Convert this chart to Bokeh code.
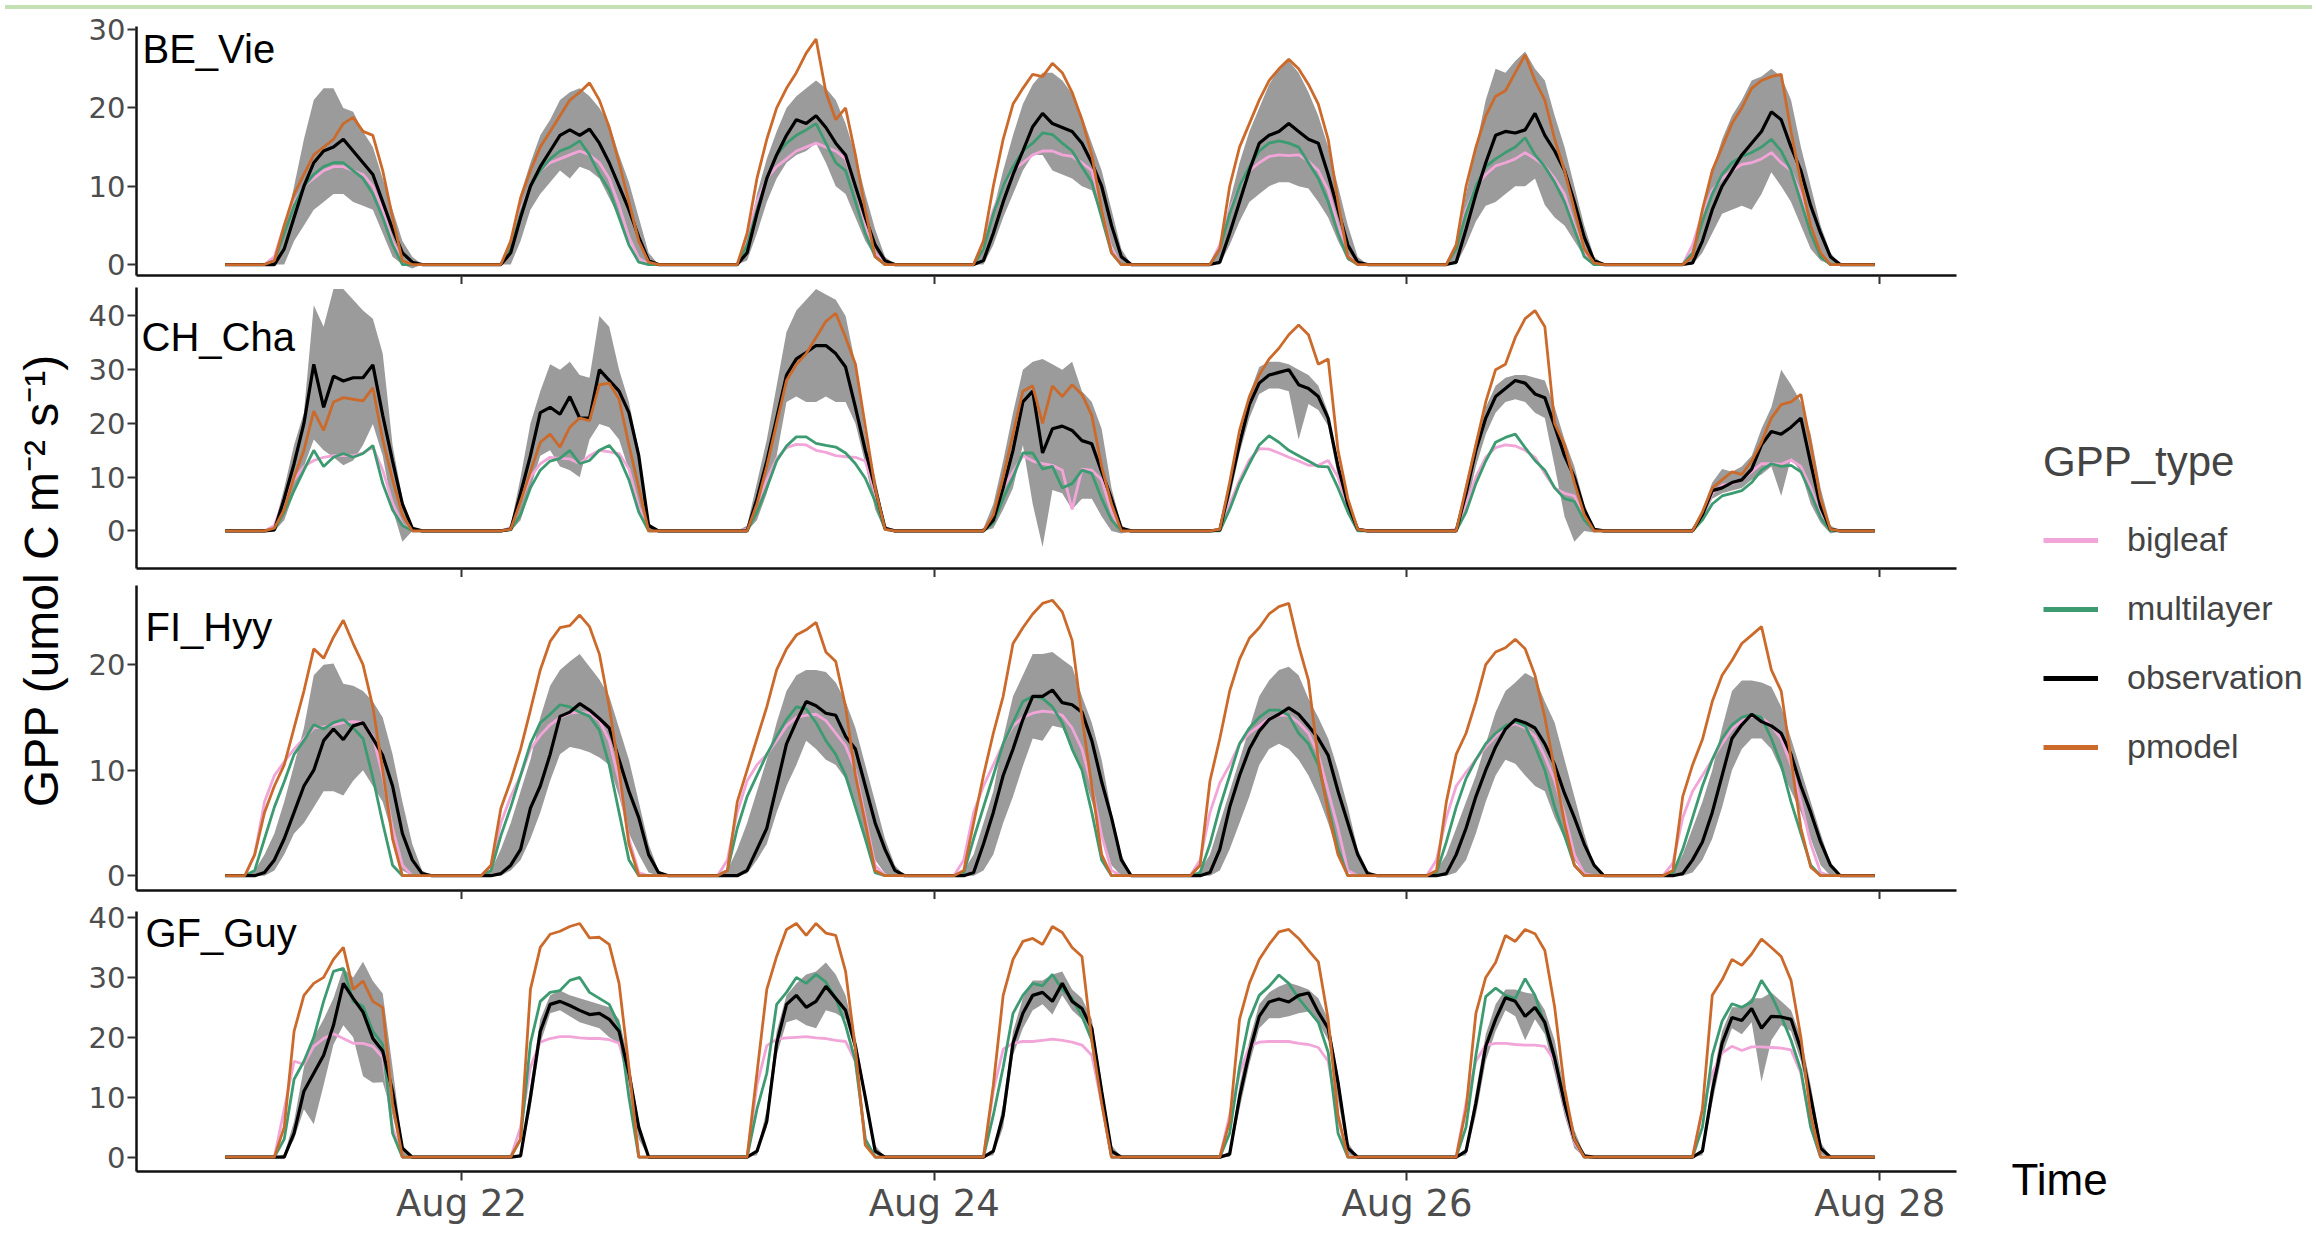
from math import pi

from bokeh.embed import file_html
from bokeh.layouts import column, row
from bokeh.models import ColumnDataSource, Div, FixedTicker, Label, Legend, LegendItem, Range1d
from bokeh.plotting import figure
from bokeh.resources import INLINE


# Hourly GPP (umol C m-2 s-1), one list per day (Aug 21 .. Aug 27), starting at FIRST_HOUR
gpp_types = ["bigleaf", "multilayer", "observation", "pmodel"]
date_ticks = [24, 72, 120, 168]  # hours since Aug 21 00:00
date_labels = ["Aug 22", "Aug 24", "Aug 26", "Aug 28"]
record_start = 0.0
record_end = 167.5

# --- BE_Vie ---
be_first_hour = 4
be_bigleaf = [
    [0, 1, 5, 8, 10, 11, 12, 12.5, 12.5, 12, 11.5, 10, 7, 3, 0.5, 0, 0],
    [0, 3, 7, 10, 12, 13, 13.5, 14, 14.5, 14, 13, 11, 7.5, 3.5, 0.8, 0, 0],
    [0, 3.5, 8, 11, 12.5, 13.5, 14.5, 15, 15.5, 15, 14.5, 13.5, 10, 5, 1.5, 0, 0],
    [0, 3, 7, 10, 12, 13, 14, 14.5, 14.5, 14, 13.8, 13, 12, 7, 2, 0, 0],
    [0, 2.5, 7, 10, 12, 13, 13.8, 14, 13.9, 14, 13.2, 12, 9.5, 5, 1.2, 0, 0],
    [0, 2.5, 7, 10, 11.5, 12.6, 13, 13.5, 14.3, 13.5, 12.6, 11, 9, 5, 1.5, 0, 0],
    [0, 2.5, 6.5, 9.5, 11, 12, 12.8, 13, 13.5, 14.3, 13, 12, 9, 5, 1.5, 0, 0],
]
be_multilayer = [
    [0, 0.5, 4, 7.5, 10, 11.5, 12.5, 13, 13, 12, 11, 9, 6, 2.5, 0, 0, 0],
    [0, 2, 6.5, 10, 12, 13.5, 14.5, 15, 15.8, 14, 11.5, 9.5, 6, 2.5, 0.3, 0, 0],
    [0, 2.5, 7, 11, 14, 15.5, 16.5, 17.2, 18, 15.5, 13, 12, 8, 4, 1, 0, 0],
    [0, 2, 6.5, 10, 12.5, 14.5, 15.5, 16.8, 16.6, 15.5, 14.5, 12.5, 10.5, 6, 1.5, 0, 0],
    [0, 2, 6.5, 10, 12.5, 14.5, 15.5, 15.8, 15.5, 15, 13, 11, 8, 4, 0.8, 0, 0],
    [0, 2, 6.5, 10, 12.5, 13.5, 14.3, 15, 16.2, 14, 12.5, 10.5, 8, 4.5, 1, 0, 0],
    [0, 1.5, 5.5, 9, 11.5, 13, 13.8, 14.3, 15, 16, 14.5, 12, 8, 4, 1, 0, 0],
]
be_observation = [
    [0, 0, 2, 6, 10, 13, 14.5, 15, 16, 14.5, 13, 11.5, 8, 4.5, 1.5, 0.3, 0],
    [0, 1.5, 6, 10, 12.5, 14.5, 16.5, 17.2, 16.5, 17.3, 15.5, 13, 10, 7, 3.5, 0.5, 0],
    [0, 1.5, 6.5, 11, 14, 16.5, 18.5, 18, 19, 17.5, 15.5, 14, 10, 6, 2.5, 0.5, 0],
    [0, 0.5, 4, 8, 11.5, 14.5, 17.6, 19.3, 18, 17.5, 17, 15.5, 13, 10, 5, 1, 0],
    [0, 0.3, 4, 8, 12, 15.5, 16.5, 17, 18, 17, 16, 15.5, 11.5, 7, 2.5, 0.3, 0],
    [0, 0.3, 4.5, 9, 13, 16.5, 17, 16.8, 17.2, 19.3, 16.5, 14.5, 12, 8, 3.5, 0.5, 0],
    [0, 0.2, 3, 7, 10, 12, 14, 15.5, 17, 19.5, 18.5, 15, 12, 7.5, 4, 1, 0],
]
be_pmodel = [
    [0, 0.5, 5, 9, 11.5, 14, 15, 16, 18, 18.8, 17, 16.5, 12, 6, 0.5, 0, 0],
    [0, 3, 8.5, 12, 15, 17, 19, 21, 22, 23.2, 21, 17.5, 13, 8, 3, 0.3, 0],
    [0, 4, 11, 16, 20, 22.5, 24.5, 27, 28.8, 22, 18.5, 20, 14, 7, 1, 0, 0],
    [0, 3, 10, 16, 20.5, 22.5, 24.3, 24, 25.7, 24.5, 22, 18.5, 14, 7, 1.5, 0, 0],
    [0, 2, 10, 15, 18, 21, 23.5, 25, 26.2, 25, 23, 20.5, 16, 8, 1, 0, 0],
    [0, 2.5, 10, 15, 19, 21.5, 22.2, 24.5, 26.8, 23.5, 21, 16, 12, 7, 2, 0.2, 0],
    [0, 1, 7, 12, 15, 18, 20, 22.5, 23.5, 24, 24.3, 17, 10.5, 5, 1.5, 0, 0],
]
be_obs_low = [
    [0, 0, 0, 3, 5, 7, 8, 9, 9, 8, 7.5, 7, 4, 1, 0, -0.5, 0],
    [0, 0, 3, 7, 9, 10.5, 12, 11, 12.5, 12, 11, 8.5, 6, 3, 1, 0, 0],
    [0, 0.5, 4, 8, 11, 13, 14, 14.5, 15.5, 13, 10, 9, 6, 3, 1, 0, 0],
    [0, 0, 2.5, 6, 9, 12, 14, 14, 12, 11.5, 11, 10, 9.5, 6, 2.5, 0, 0],
    [0, 0, 2.5, 5.5, 8, 9, 10, 10.5, 10.5, 10, 9.7, 8, 6, 3, 0.5, 0, 0],
    [0, 0, 2.5, 5.5, 7.5, 8, 9, 10, 10, 11, 7.6, 6, 5, 3, 1, 0, 0],
    [0, 0, 1.5, 4, 6.5, 7, 7.5, 7, 9, 11.8, 10, 8, 5, 2, 0.5, 0, 0],
]
be_obs_high = [
    [0, 0.5, 4, 10, 16, 21, 22.5, 22.5, 20, 19.5, 17, 15, 11, 7, 3, 1, 0],
    [0, 3, 9, 13, 16.5, 18.5, 21, 22, 22.5, 21.5, 20, 18, 14, 10.5, 6, 1.5, 0],
    [0, 3, 9, 13.5, 17, 20, 21.5, 22.5, 23.5, 22.5, 21, 18, 14, 9, 4.5, 1, 0],
    [0, 2, 7, 12, 16.5, 20.5, 23, 24.5, 24.5, 23.5, 21.8, 19, 15.5, 12, 7, 2, 0],
    [0, 2, 8, 13, 17, 20, 23, 25, 26, 24.5, 22, 19, 15, 10, 5, 1, 0],
    [0, 2, 9, 15, 21, 25, 24.5, 26, 27.2, 25, 23.5, 19, 15, 10, 5, 1, 0],
    [0, 1.5, 7, 12, 16, 19, 21, 23.5, 24, 25, 24, 21, 15, 10, 5, 1.5, 0],
]

# --- CH_Cha ---
ch_first_hour = 4
ch_bigleaf = [
    [0, 1, 6, 9.5, 12, 13.1, 13.7, 14, 14, 14, 14.5, 15.6, 11.3, 5.2, 1.2, 0, 0],
    [0, 0.5, 5.5, 10, 12.5, 13.7, 13.5, 13.4, 12.5, 14, 15, 14.7, 14.4, 11.5, 4.5, 0, 0],
    [0, 0.3, 5, 9.5, 13.5, 15.5, 16.1, 16, 15, 14.6, 14, 13.8, 13.7, 13, 7, 0.5, 0],
    [0, 0, 3, 8, 11, 14, 13, 12.5, 12.2, 11.3, 4, 11.5, 11.3, 9.5, 3.5, 0, 0],
    [0, 0.3, 5, 9.4, 13.2, 15.3, 15.2, 14.5, 13.7, 13, 12.2, 12.2, 13.1, 10, 4, 0.3, 0],
    [0, 0.3, 5, 10, 13.7, 15.5, 16, 15.8, 15, 13.7, 10.7, 8, 7, 6.5, 2.5, 0, 0],
    [0, 0, 2.8, 7, 8.5, 8.8, 9.5, 11, 12.5, 12.5, 12.4, 13.2, 12, 8, 3, 0.2, 0],
]
ch_multilayer = [
    [0, 0.2, 3.5, 7.5, 11.3, 15, 12, 13.7, 14.4, 13.7, 14.4, 15.9, 8.8, 3.9, 1, 0, 0],
    [0, 0.2, 3, 8, 11.3, 13, 13.5, 15, 12.5, 13.1, 15, 15.9, 13.7, 9.5, 3.5, 0, 0],
    [0, 0, 3.5, 8, 13, 15.8, 17.5, 17.5, 16.3, 15.9, 15.6, 14.5, 12.5, 9.8, 5.5, 0.3, 0],
    [0, 0, 1.5, 6, 10, 14.5, 14.5, 11.5, 12, 8, 8.8, 11.3, 10.7, 6, 2, 0, 0],
    [0, 0, 4, 8.8, 12.5, 16, 17.7, 16.5, 15, 14, 13, 12, 11.9, 8, 3.5, 0, 0],
    [0, 0, 3.5, 8.8, 13, 16.5, 17.4, 18, 15.5, 13.1, 11.3, 8, 6, 5.5, 2, 0, 0],
    [0, 0, 2, 5, 6.5, 7, 7.5, 9, 11.3, 12.5, 12, 12.2, 11, 7, 2.5, 0, 0],
]
ch_observation = [
    [0, 0.2, 6, 12.5, 20, 31, 23, 28.8, 27.9, 28.5, 28.5, 30.9, 21.5, 13, 5, 0.5, 0],
    [0, 0.3, 7, 14, 22, 23, 21.7, 25, 21, 21, 30, 28, 26, 22, 14, 1, 0],
    [0, 0, 6, 13, 21, 29, 32, 33.2, 34.5, 34.5, 33, 30.5, 23, 15, 8, 0.5, 0],
    [0, 0, 2, 8, 15, 24, 26, 14.5, 19, 19.5, 18.7, 16.8, 16.2, 11, 6, 0.5, 0],
    [0, 0.2, 8, 16.2, 23.5, 27.5, 29, 29.5, 30, 27.2, 26.5, 25, 21, 12, 5, 0.3, 0],
    [0, 0, 7, 15, 21, 25, 26.5, 28, 27.5, 25.5, 24.8, 19.5, 14, 10, 4, 0.3, 0],
    [0, 0, 3, 7.5, 8, 9, 9.5, 11.5, 16, 18.5, 18, 19.3, 21, 12.5, 4.5, 0.3, 0],
]
ch_pmodel = [
    [0, 0.5, 4, 10, 15, 22.3, 18.7, 24, 24.8, 24.5, 24.2, 26.6, 17, 9.5, 3, 0, 0],
    [0, 0.3, 5.5, 11, 16.5, 18, 15.6, 19.3, 21, 20.5, 27.2, 27.5, 24.5, 16, 8, 0, 0],
    [0, 0, 5, 12, 20, 28, 31, 33, 36, 39, 40.5, 36, 31, 19.5, 8, 0.3, 0],
    [0, 0, 3, 10, 18, 26, 27, 20, 27, 25, 27.2, 25.4, 21.5, 12, 5, 0, 0],
    [0, 0.3, 9, 18.7, 25, 29, 32, 34, 36.5, 38.3, 36.5, 31, 32, 15, 6, 0.3, 0],
    [0, 0, 8, 16, 24, 30, 31, 36, 39.5, 41, 38, 20, 16, 9, 3, 0, 0],
    [0, 0, 3.5, 8, 9.5, 11, 10.5, 13, 16.5, 21, 23.5, 24, 25.4, 16, 6, 0.3, 0],
]
ch_obs_low = [
    [0, 0, 2, 7, 12, 17, 15, 13.7, 12.2, 13.1, 16, 19.9, 14, 4, -2, 0, 0],
    [0, 0, 2, 8, 14, 15, 12, 11.3, 10, 17, 19.9, 19.3, 17, 11.3, 4, 0, 0],
    [0, 0, 2, 7, 14, 24, 25, 24, 24, 25, 24, 24, 20, 12.5, 4, 0, 0],
    [0, 0, 0.5, 4, 8, 16, 5, -3, 7.6, 7, 4, 6, 6, 2.7, 0, -0.5, 0],
    [0, 0, 6, 14.5, 21, 25.5, 26.5, 26.5, 26, 17, 23.6, 22.5, 19.5, 10, 3, 0, 0],
    [0, 0, 4, 12, 18, 22, 24, 24.5, 24, 22, 21, 12, 2.7, -2, 0, -0.3, 0],
    [0, 0, 2, 6, 7, 7.5, 8, 9.5, 10.5, 12, 6.5, 13.5, 11, 5, 1.5, -0.5, 0],
]
ch_obs_high = [
    [0, 1, 8, 16, 22, 42, 38, 45, 45, 43, 41, 39.5, 33, 16, 6, 0.5, 0],
    [0, 1, 10, 20, 26, 31, 30, 31.5, 29, 28.5, 40, 38, 30, 24, 15, 1.5, 0],
    [0, 1, 9, 17, 27, 37, 41, 43, 45, 44, 43, 40, 31, 18, 10, 1, 0],
    [0, 0.5, 5, 13, 22, 30, 31.5, 32, 31, 30, 31.5, 26, 24, 19, 8, 1, 0],
    [0, 0.5, 10, 17.5, 25.5, 30.5, 31.5, 31.5, 31, 30, 29, 27, 22, 13, 6, 0.5, 0],
    [0, 0.5, 9, 17, 23, 27, 28.5, 29, 29, 28.5, 28, 23, 17, 12, 5, 0.5, 0],
    [0, 0.5, 4, 9, 11.5, 11, 12, 14, 19, 23, 30, 27.2, 24, 18, 8, 1, 0],
]

# --- FI_Hyy ---
fi_first_hour = 2
fi_bigleaf = [
    [0, 2, 7, 9.5, 10.8, 12, 13, 14, 14.1, 14.3, 14.5, 14.6, 14.5, 13.2, 9.5, 4.5, 1, 0, 0, 0],
    [0, 1, 5, 7.5, 9.5, 12, 13.3, 14.3, 15, 15.4, 15.5, 15.4, 14.7, 12.8, 9, 3.5, 0.3, 0, 0, 0],
    [0, 1.5, 6, 9, 10.5, 11.5, 12.8, 14.2, 15, 15.2, 15.3, 14.7, 13.5, 12.3, 10, 5.5, 1, 0, 0, 0],
    [0, 1.5, 6, 8.5, 10.5, 12.5, 14.2, 15, 15.4, 15.6, 15.5, 15.2, 14, 12, 8.5, 3.8, 0.5, 0, 0, 0],
    [0, 1.5, 6, 8.8, 10.5, 12.5, 13.5, 14.2, 14.9, 15.2, 15.2, 14.5, 13.5, 11.5, 8, 4.5, 0.5, 0, 0, 0],
    [0, 1.5, 5.5, 8.5, 9.8, 11, 12.2, 13.2, 14.1, 14.4, 14, 13.2, 11.3, 9, 5.8, 2, 0.2, 0, 0, 0],
    [0, 1.2, 5.5, 8, 9.5, 11, 12.5, 13.9, 14.7, 15.1, 15, 14.2, 13, 10.5, 7, 3, 0.3, 0, 0, 0],
]
fi_multilayer = [
    [0, 0.5, 3.5, 6.5, 8.9, 11.5, 12.8, 14.3, 13.9, 14.5, 14.8, 14, 13, 9.3, 5, 1, 0, 0, 0, 0],
    [0, 0.5, 3.8, 6.5, 9.5, 12.5, 14.5, 15.3, 16.2, 16, 15.5, 15.1, 13.8, 10.5, 6, 1.5, 0, 0, 0, 0],
    [0, 0.5, 4.5, 7.5, 9.5, 11.5, 13.2, 14.8, 16, 15.8, 14.5, 12.8, 11.5, 9.5, 6.5, 3.5, 0.3, 0, 0, 0],
    [0, 0.3, 3.5, 6.5, 9.5, 12.5, 14.5, 16.5, 17, 16.8, 16, 14.5, 12, 10, 6, 1.5, 0, 0, 0, 0],
    [0, 0.3, 3, 6.5, 9.5, 12.5, 14, 15, 15.7, 15.7, 15.2, 13.5, 12.5, 10.5, 6.5, 2.5, 0, 0, 0, 0],
    [0, 0.3, 3.2, 6.5, 9.2, 11, 12.5, 13.5, 14.2, 14.6, 14.2, 12.3, 10, 6.5, 3.8, 1, 0, 0, 0, 0],
    [0, 0.2, 2.5, 5.5, 8.5, 11, 13, 14.3, 15, 15.3, 15, 13, 10.5, 7, 4, 1, 0, 0, 0, 0],
]
fi_observation = [
    [0, 0, 0.3, 1.5, 3.5, 6, 8.5, 10, 12.8, 13.9, 12.9, 14.2, 14.5, 13, 11.4, 8.5, 4, 1.5, 0.2, 0],
    [0, 0, 0.2, 1, 2.5, 6.4, 8.5, 11.5, 15.1, 15.5, 16.3, 15.7, 14.9, 14, 11, 8, 5.5, 2, 0.3, 0],
    [0, 0, 0, 0.5, 2.5, 4.5, 8.5, 12.5, 14.6, 16.5, 16.1, 15.4, 15.2, 13.2, 12, 8.5, 5, 2.5, 0.5, 0],
    [0, 0, 0.3, 3, 6, 9.5, 12, 14.8, 17, 17, 17.6, 16.4, 16.2, 15.5, 12.8, 8.9, 5.5, 1.5, 0, 0],
    [0, 0, 0.3, 2.5, 6.5, 9.5, 12, 13.7, 14.8, 15.3, 15.9, 15.3, 14.2, 13, 11.4, 8, 5, 2, 0.2, 0],
    [0, 0, 0.2, 2, 4.5, 7.5, 10, 12.2, 13.9, 14.8, 14.5, 14, 12.5, 10.5, 7.8, 5.5, 3, 1, 0, 0],
    [0, 0, 0.2, 1.5, 3.2, 6, 9.5, 13, 14.3, 15.3, 14.6, 14.2, 13.5, 11.5, 8.5, 6, 3.2, 1, 0, 0],
]
fi_pmodel = [
    [0, 2, 6, 8.5, 10.5, 14, 17.5, 21.5, 20.6, 22.6, 24.2, 22, 20, 16, 10, 3.5, 0, 0, 0, 0],
    [0, 1, 6.4, 9, 12, 15.7, 19.5, 22.2, 23.5, 23.7, 24.7, 23.6, 21, 16, 10, 3, 0, 0, 0, 0],
    [0, 0.5, 7, 10, 13, 16, 19.5, 21.5, 22.8, 23.3, 24, 21.2, 20.3, 16, 9.5, 5, 0.5, 0, 0, 0],
    [0, 0.5, 5, 9.5, 13.5, 17, 22, 23.5, 24.8, 25.8, 26.1, 25, 22.3, 15, 8.5, 2, 0, 0, 0, 0],
    [0, 1, 9, 13, 17.5, 20.5, 22.5, 23.5, 24.8, 25.5, 25.8, 21.8, 18.5, 11, 6, 2, 0, 0, 0, 0],
    [0, 0.5, 7, 11.5, 13.5, 16.5, 20, 21.2, 21.6, 22.4, 21.5, 19, 15, 10, 5, 1, 0, 0, 0, 0],
    [0, 0.5, 7.5, 10.5, 12.9, 16.5, 19, 20.4, 22, 22.8, 23.6, 19.5, 17.5, 11, 4.5, 0.8, 0, 0, 0, 0],
]
fi_obs_low = [
    [0, 0, 0, 0.5, 2, 4, 5, 6.5, 8, 8, 7.6, 9, 10, 8.5, 7, 3.8, 0.5, 0, 0, 0],
    [0, 0, 0, 0.5, 1.5, 3.5, 6, 9, 11.5, 12.2, 12, 11.7, 11.2, 10.5, 7.5, 4, 2, 0.3, 0, 0],
    [0, 0, 0, 0.2, 1.5, 3, 6, 8.5, 10.5, 12.8, 12, 11, 10.5, 9.2, 6.5, 3.5, 1.5, 0.2, 0, 0],
    [0, 0, 0, 0.5, 2, 5, 7.5, 10.4, 13, 12.8, 14.2, 14, 12, 10, 7, 4, 1, 0, 0, 0],
    [0, 0, 0, 0.5, 2.5, 5, 7.5, 10.5, 12, 12.5, 12, 11, 9.5, 7.5, 5, 2, 0.5, 0, 0, 0],
    [0, 0, 0, 0.3, 1.5, 4, 7, 9.5, 11, 10.6, 9.5, 8.5, 8, 5.5, 3.5, 1.5, 0.2, 0, 0, 0],
    [0, 0, 0, 0.3, 1.5, 3.5, 6.5, 10, 12, 13, 13, 12, 10, 8, 6, 3.5, 1, 0, 0, 0],
]
fi_obs_high = [
    [0, 0.5, 2, 4, 7, 10.5, 14, 19, 20, 20.1, 18.2, 18, 17.5, 16.5, 15, 11.5, 7, 3, 0.5, 0],
    [0, 0.5, 2.5, 5, 8, 11, 15, 18, 19.5, 20.3, 21, 19.8, 18.6, 17, 14, 11, 7, 3, 0.5, 0],
    [0, 0.5, 2.5, 5, 8, 11, 14.5, 17.5, 19, 19.5, 19.5, 19.3, 18.3, 16.5, 14, 10.5, 7, 3.5, 1, 0],
    [0, 0.5, 2, 5, 8, 13, 17, 19, 21, 21, 21.2, 20.5, 19.8, 17, 14.5, 11, 6, 2, 0, 0],
    [0, 0.5, 2, 5, 8, 11, 14, 17, 18.5, 19.5, 19.8, 19, 16.8, 15, 13, 10, 6.5, 2.5, 0.5, 0],
    [0, 0.5, 2, 4.5, 7, 9.5, 12.5, 15.5, 17.5, 18.3, 19.2, 18.7, 16.5, 14.5, 11, 7.5, 4, 1, 0, 0],
    [0, 0.3, 2, 4.5, 7, 10, 14, 17.5, 18.5, 18.5, 18.3, 17.9, 16, 13, 10, 7, 4, 1.2, 0, 0],
]

# --- GF_Guy ---
gf_first_hour = 4
gf_bigleaf = [
    [0, 0, 8, 16, 15.5, 18.5, 19.8, 20.6, 19.8, 19, 19, 18.5, 16.6, 5, 0, 0, 0],
    [0, 0, 5, 15, 19.2, 19.8, 20.1, 20.1, 19.9, 19.8, 19.8, 19.6, 19, 13, 0, 0, 0],
    [0, 0, 12, 18.6, 19.7, 19.9, 20, 20.1, 19.9, 19.8, 19.5, 19.3, 16, 3, 0, 0, 0],
    [0, 0, 11, 18, 19, 19.3, 19.3, 19.5, 19.7, 19.5, 19.2, 18.7, 17, 9, 0, 0, 0],
    [0, 0, 7, 14, 18.5, 19.2, 19.3, 19.3, 19.3, 19, 18.8, 18.3, 16, 6.5, 0, 0, 0],
    [0, 0, 9, 16, 18.7, 19, 19, 18.8, 18.7, 18.7, 18.5, 16, 8.5, 2.5, 0, 0, 0],
    [0, 0, 8, 14, 17.4, 18.5, 17.8, 18.4, 18.4, 18.3, 18.2, 17.9, 14, 5, 0, 0, 0],
]
gf_multilayer = [
    [0, 0, 3, 13, 16, 20, 26, 31, 31.5, 26, 25.2, 21, 18.8, 4, 0, 0, 0],
    [0, 0, 3, 19, 26, 27.5, 27.8, 29.5, 30, 27.5, 26.5, 25.5, 22, 10, 0, 0, 0],
    [0, 0, 8, 14, 25.5, 27.5, 30, 29, 30.5, 29.2, 26.5, 22, 16, 3, 0, 0, 0],
    [0, 0, 7, 15, 24, 27, 29, 28.6, 30.5, 28, 26.5, 23.5, 19.5, 9.5, 0, 0, 0],
    [0, 0, 4, 15, 23, 27, 28.5, 30.4, 29, 26.5, 24.5, 22.5, 17.5, 4, 0, 0, 0],
    [0, 0, 5, 17, 26.8, 28.2, 27, 26.5, 29.8, 27, 22, 16.5, 9.4, 3, 0, 0, 0],
    [0, 0, 5, 17, 22.7, 25.6, 25, 25.9, 29.5, 27, 23.5, 19.5, 14.5, 5, 0, 0, 0],
]
gf_observation = [
    [0, 0, 0, 4, 11, 14, 17, 22, 29, 26.5, 24.2, 19.8, 17.7, 11, 1.5, 0, 0],
    [0, 0, 0.2, 10, 21, 25.5, 26, 25.3, 24.5, 23.8, 24, 23, 21, 14, 5, 0, 0],
    [0, 0, 1, 6, 19, 25.5, 27, 25, 26, 28.5, 26.5, 24.5, 18.5, 10, 1, 0, 0],
    [0, 0, 1, 7, 19, 24, 27, 27.5, 26, 29, 26, 24.8, 21.5, 11, 1, 0, 0],
    [0, 0, 0.5, 10, 17.5, 23.5, 25.9, 26.4, 25.9, 27, 27.4, 24.2, 21.5, 12.5, 1.5, 0, 0],
    [0, 0, 1, 9, 18.5, 23, 26.6, 26, 23.5, 25, 22.5, 16.5, 9, 3, 0.2, 0, 0],
    [0, 0, 1, 11, 19, 23.3, 22.8, 24.8, 21.5, 23.5, 23.4, 23, 18, 10, 1.5, 0, 0],
]
gf_pmodel = [
    [0, 0, 5, 21, 27, 29, 30, 33, 35, 28, 29.4, 26, 25, 9, 0, 0, 0],
    [0, 0, 3, 28, 35, 37.2, 37.7, 38.5, 39, 36.6, 36.7, 35.5, 29, 15, 0, 0, 0],
    [0, 0, 14, 28, 33.5, 38, 39, 37, 39, 37.4, 37, 31, 18, 2, 0, 0, 0],
    [0, 0, 12, 27, 33, 36, 36.5, 35.5, 38.5, 37.5, 35, 33.5, 19.5, 9, 0, 0, 0],
    [0, 0, 6, 23, 29, 33, 35.5, 37.6, 38, 36.5, 34.5, 32.6, 23, 7, 0, 0, 0],
    [0, 0, 8, 24, 30, 32.5, 37, 36, 38, 37.3, 34.5, 25, 11.5, 3, 0, 0, 0],
    [0, 0, 8, 27, 29.6, 33, 32, 33.9, 36.4, 35, 33.5, 29.5, 20, 7, 0, 0, 0],
]
gf_obs_low = [
    [0, 0, 0, 3, 8, 5.5, 12, 18.8, 22, 20, 13.5, 12.4, 12.5, 7, 0, 0, 0],
    [0, 0, 0, 8, 19, 24, 24.5, 23.5, 22.5, 22, 21.5, 20, 19, 12, 3, 0, 0],
    [0, 0, 0.3, 5, 17, 22.5, 23, 22, 21.5, 24.5, 24, 23, 17.5, 9, 0.5, 0, 0],
    [0, 0, 0.3, 5, 17, 21.5, 24.5, 25.5, 23.8, 27, 24.5, 23, 20, 9.5, 0.5, 0, 0],
    [0, 0, 0, 8, 15.5, 21.5, 23.2, 23.2, 23.5, 24, 24.3, 22.5, 19.5, 9.5, 0.5, 0, 0],
    [0, 0, 0.3, 7, 16, 21, 24.5, 23.5, 19.5, 23, 20.5, 14, 7, 1.5, 0, 0, 0],
    [0, 0, 0.3, 9, 17, 21.5, 20.5, 22.5, 12.6, 19.5, 22, 21, 16, 8, 0.5, 0, 0],
]
gf_obs_high = [
    [0, 0, 0.5, 6, 15, 20, 23, 26.5, 31.5, 30, 32.6, 29.4, 27.3, 15, 2, 0, 0],
    [0, 0, 0.5, 12, 23, 27, 27.8, 27, 26.5, 26, 25.5, 25, 23, 16, 6, 0, 0],
    [0, 0, 1, 8, 21, 27, 29, 30.5, 31, 32.5, 30.5, 27, 20, 11, 2, 0, 0],
    [0, 0, 1, 9, 21, 26.5, 29.5, 29.5, 30.5, 31, 28, 26.5, 23, 12.5, 2, 0, 0],
    [0, 0, 1, 12, 19.5, 25.5, 27.5, 28.5, 29.1, 28.6, 28, 26.5, 23, 14, 2.5, 0, 0],
    [0, 0, 1.5, 11, 20.5, 25.5, 28, 28, 27.5, 27.2, 24.5, 19.5, 11, 4.5, 0.5, 0, 0],
    [0, 0, 1.5, 13, 21, 25, 25, 26.5, 26.5, 27.5, 26, 24.5, 20, 12, 2.5, 0, 0],
]

site_data = {
    "BE_Vie": (be_first_hour, be_bigleaf, be_multilayer, be_observation, be_pmodel, be_obs_low, be_obs_high),
    "CH_Cha": (ch_first_hour, ch_bigleaf, ch_multilayer, ch_observation, ch_pmodel, ch_obs_low, ch_obs_high),
    "FI_Hyy": (fi_first_hour, fi_bigleaf, fi_multilayer, fi_observation, fi_pmodel, fi_obs_low, fi_obs_high),
    "GF_Guy": (gf_first_hour, gf_bigleaf, gf_multilayer, gf_observation, gf_pmodel, gf_obs_low, gf_obs_high),
}

# Styling
colors = {"bigleaf": "#f2a5d8", "multilayer": "#3d9b72", "observation": "#000000", "pmodel": "#cc6a2b"}
band_color = "#9b9b9b"
tick_grey = "#4d4d4d"

# panel layout: (height, border top, border bottom, y start, y end, y ticks, label x, label y)
panel_layout = {
    "BE_Vie": (270, 12, 8, -1.4, 30.4, [0, 10, 20, 30], 6, 227),
    "CH_Cha": (293, 3, 9, -7.0, 45.3, [0, 10, 20, 30, 40], 5, 232),
    "FI_Hyy": (322, 8, 8, -1.4, 27.5, [0, 10, 20], 9, 264),
    "GF_Guy": (328, 12, 50, -2.4, 41.0, [0, 10, 20, 30, 40], 9, 239),
}


def stitch(days, first_hour):
    t, v = [record_start], [0.0]
    for d, vals in enumerate(days):
        for i, val in enumerate(vals):
            t.append(24 * d + first_hour + i)
            v.append(val)
    t.append(record_end)
    v.append(0.0)
    return t, v


x_range = Range1d(-9.0, 175.8)
panels = []
for n, site in enumerate(site_data):
    first_hour, bigleaf, multilayer, observation, pmodel, obs_low, obs_high = site_data[site]
    height, b_top, b_bottom, y0, y1, yticks, lab_x, lab_y = panel_layout[site]
    cols = {}
    for name, days in zip(
        ["bigleaf", "multilayer", "observation", "pmodel", "low", "high"],
        [bigleaf, multilayer, observation, pmodel, obs_low, obs_high],
    ):
        t, v = stitch(days, first_hour)
        cols["t"] = t
        cols[name] = v
    source = ColumnDataSource(data=cols)

    p = figure(
        width=1890,
        height=height,
        x_range=x_range,
        y_range=Range1d(y0, y1),
        output_backend="svg",
        toolbar_location=None,
        min_border_left=59,
        min_border_right=11,
        min_border_top=b_top,
        min_border_bottom=b_bottom,
    )
    p.grid.visible = False
    p.outline_line_color = None
    p.background_fill_color = "white"

    p.varea(x="t", y1="low", y2="high", source=source, fill_color=band_color, fill_alpha=1.0)
    for name in gpp_types:
        p.line(x="t", y=name, source=source, line_color=colors[name], line_width=3.2 if name == "observation" else 2.8)

    p.axis.axis_line_width = 2.5
    p.axis.axis_line_color = "#111111"
    p.axis.major_tick_line_width = 2
    p.axis.major_tick_line_color = "#333333"
    p.axis.major_tick_out = 9
    p.axis.major_tick_in = 0
    p.axis.minor_tick_line_color = None

    p.xaxis.ticker = FixedTicker(ticks=date_ticks)
    if n < 3:
        p.xaxis.major_label_overrides = {t: "" for t in date_ticks}
        p.xaxis.major_label_text_font_size = "0px"
        p.xaxis.major_label_standoff = 0
    else:
        p.xaxis.major_label_overrides = dict(zip(date_ticks, date_labels))
        p.xaxis.major_label_text_font = "DejaVu Sans"
        p.xaxis.major_label_text_font_size = "37px"
        p.xaxis.major_label_text_color = tick_grey
        p.xaxis.major_label_standoff = 1

    p.yaxis.ticker = FixedTicker(ticks=yticks)
    p.yaxis.major_label_text_font = "DejaVu Sans"
    p.yaxis.major_label_text_font_size = "29px"
    p.yaxis.major_label_text_color = tick_grey
    p.yaxis.major_label_standoff = 2

    p.add_layout(
        Label(
            x=lab_x,
            y=lab_y,
            x_units="screen",
            y_units="screen",
            text=site,
            text_font="Liberation Sans",
            text_font_size="40px",
            text_color="black",
            text_baseline="middle",
        )
    )
    panels.append(p)

total_h = sum(panel_layout[s][0] for s in panel_layout)

# Left strip holding the shared y-axis title
left = figure(
    width=77,
    height=total_h,
    x_range=Range1d(0, 77),
    y_range=Range1d(0, total_h),
    output_backend="svg",
    toolbar_location=None,
    x_axis_location=None,
    y_axis_location=None,
    min_border=0,
)
left.grid.visible = False
left.outline_line_color = None
left.add_layout(
    Label(
        x=41,
        y=total_h - 566,
        text="GPP (umol C m⁻² s⁻¹)",
        angle=pi / 2,
        text_align="center",
        text_baseline="middle",
        text_font="Liberation Sans",
        text_font_size="48px",
        text_color="black",
    )
)

# Right strip with legend and x-axis title
right = figure(
    width=340,
    height=total_h,
    x_range=Range1d(0, 340),
    y_range=Range1d(0, total_h),
    output_backend="svg",
    toolbar_location=None,
    x_axis_location=None,
    y_axis_location=None,
    min_border=0,
)
right.grid.visible = False
right.outline_line_color = None
items = []
for name in gpp_types:
    r = right.line(x=[float("nan")], y=[float("nan")], line_color=colors[name], line_width=5)
    items.append(LegendItem(label=name, renderers=[r]))
legend = Legend(
    items=items,
    location=(76, 461),
    title="GPP_type",
    title_text_font="Liberation Sans",
    title_text_font_size="42px",
    title_text_font_style="normal",
    title_standoff=34,
    label_text_font="Liberation Sans",
    label_text_font_size="34px",
    glyph_width=55,
    glyph_height=32,
    label_height=32,
    label_standoff=29,
    spacing=30,
    padding=0,
    margin=0,
    border_line_color=None,
    background_fill_alpha=0,
)
right.add_layout(legend)
right.add_layout(
    Label(
        x=44,
        y=48,
        text="Time",
        text_font="Liberation Sans",
        text_font_size="44px",
        text_color="black",
        text_baseline="middle",
    )
)

top_bar = Div(width=2307, height=4, styles={"background-color": "#c5e0b4"})
layout = column(top_bar, row(left, column(*panels), right))

open("out.html", "w").write(file_html(layout, INLINE))
